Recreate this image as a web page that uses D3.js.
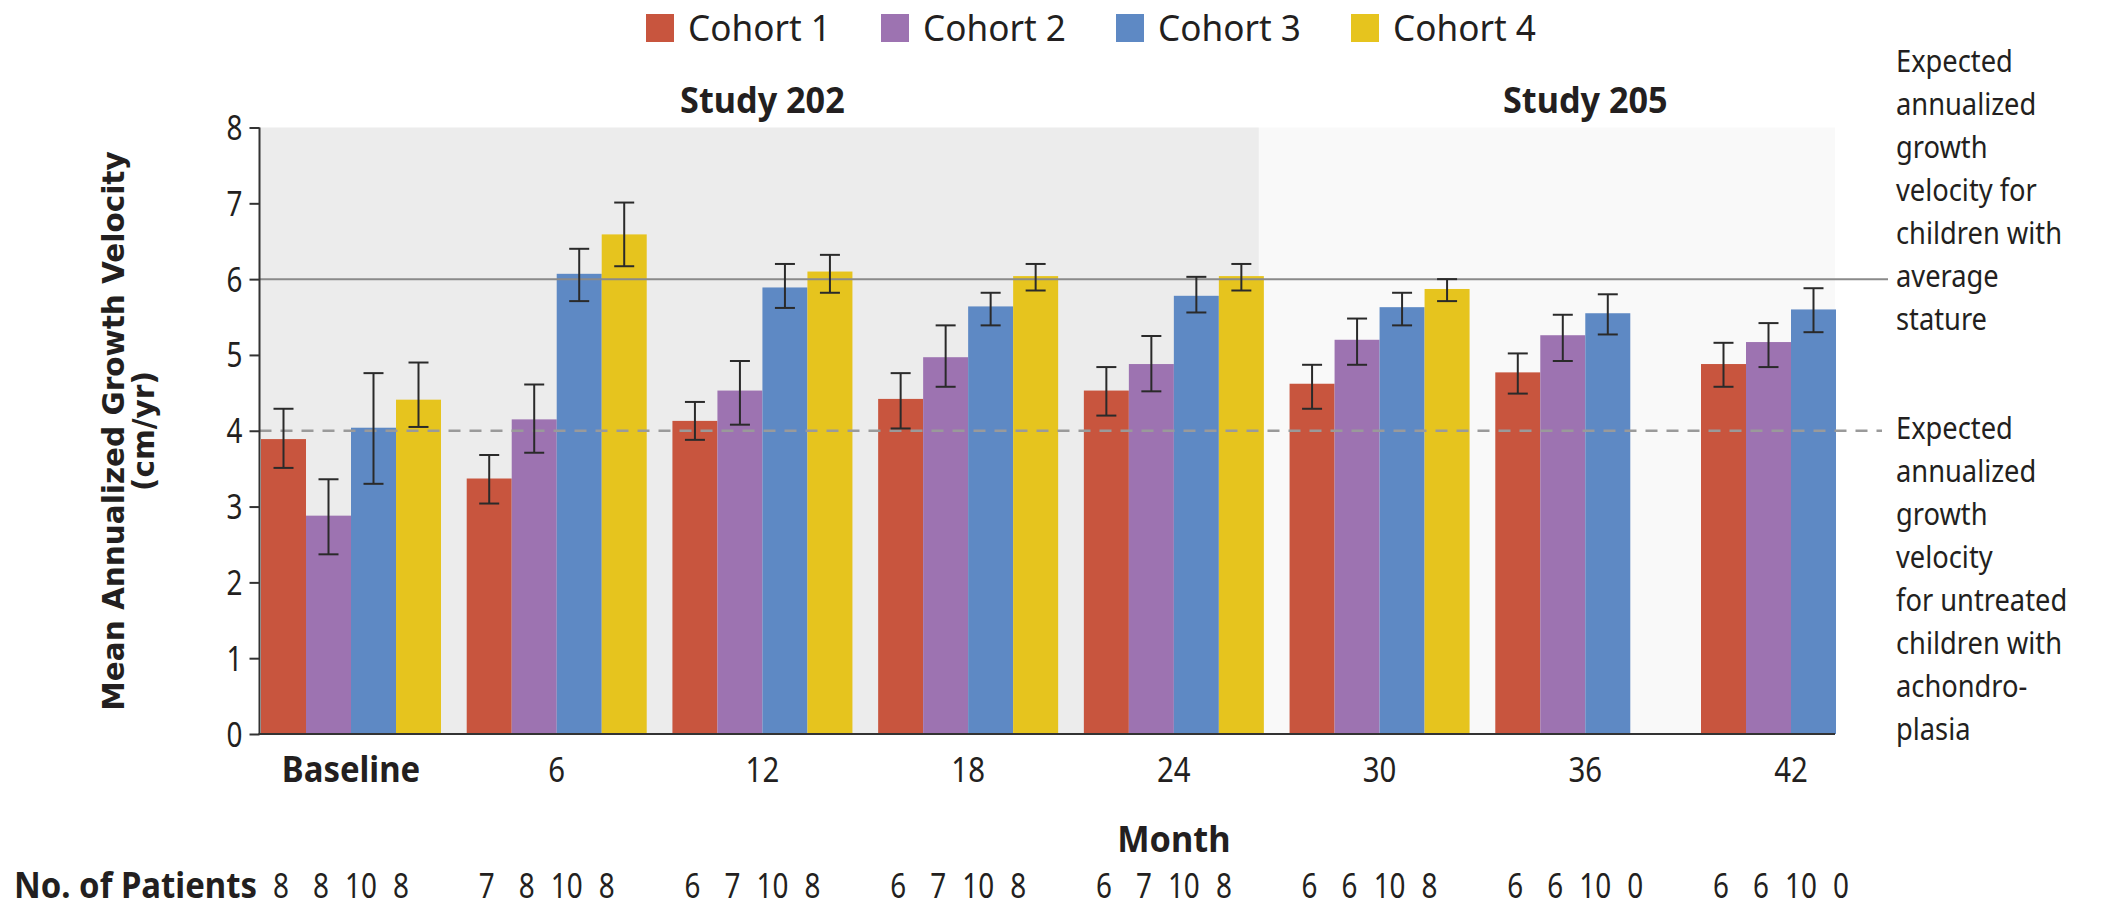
<!DOCTYPE html>
<html>
<head>
<meta charset="utf-8">
<script src="https://cdn.jsdelivr.net/npm/d3@7"></script>
<style>
  html, body { margin: 0; padding: 0; background: #fff; }
  svg { display: block; }
  text { fill: #231f20; font-family: "Noto Sans", "Open Sans", sans-serif; }
</style>
</head>
<body>
<svg id="chart" width="2114" height="909"></svg>
<script>
// ---- data ----
const months = ["Baseline", "6", "12", "18", "24", "30", "36", "42"];
const cohorts = ["Cohort 1", "Cohort 2", "Cohort 3", "Cohort 4"];
const cohortColors = ["#c8553e", "#9d73b1", "#5e89c4", "#e6c41e"];

// mean annualized growth velocity (cm/yr) by month, with error-bar limits
const cohort1Mean = [3.89, 3.37, 4.13, 4.42, 4.53, 4.62, 4.77, 4.88];
const cohort1Low  = [3.51, 3.04, 3.88, 4.03, 4.20, 4.29, 4.49, 4.58];
const cohort1High = [4.29, 3.68, 4.38, 4.76, 4.84, 4.87, 5.02, 5.16];

const cohort2Mean = [2.88, 4.15, 4.53, 4.97, 4.88, 5.20, 5.26, 5.17];
const cohort2Low  = [2.37, 3.71, 4.08, 4.58, 4.52, 4.87, 4.92, 4.84];
const cohort2High = [3.36, 4.61, 4.92, 5.39, 5.25, 5.48, 5.53, 5.42];

const cohort3Mean = [4.04, 6.07, 5.89, 5.64, 5.78, 5.63, 5.55, 5.60];
const cohort3Low  = [3.30, 5.71, 5.62, 5.39, 5.56, 5.39, 5.27, 5.30];
const cohort3High = [4.76, 6.40, 6.20, 5.82, 6.03, 5.82, 5.80, 5.88];

const cohort4Mean = [4.41, 6.59, 6.10, 6.04, 6.04, 5.87, null, null];
const cohort4Low  = [4.05, 6.17, 5.82, 5.85, 5.85, 5.71, null, null];
const cohort4High = [4.90, 7.01, 6.32, 6.20, 6.20, 6.00, null, null];

// number of patients per month, cohorts 1-4
const patients = [
  [8, 8, 10, 8], [7, 8, 10, 8], [6, 7, 10, 8], [6, 7, 10, 8],
  [6, 7, 10, 8], [6, 6, 10, 8], [6, 6, 10, 0], [6, 6, 10, 0]
];

const yTicks = [0, 1, 2, 3, 4, 5, 6, 7, 8];
const averageStatureVelocity = 6;
const untreatedVelocity = 4;

const studyNames = ["Study 202", "Study 205"];
const studyLabelMonth = ["12", "36"];

const averageNote = ["Expected", "annualized", "growth", "velocity for", "children with", "average", "stature"];
const untreatedNote = ["Expected", "annualized", "growth", "velocity", "for untreated", "children with", "achondro-", "plasia"];

const yTitle = ["Mean Annualized Growth Velocity", "(cm/yr)"];

// ---- series table ----
const means = [cohort1Mean, cohort2Mean, cohort3Mean, cohort4Mean];
const lows = [cohort1Low, cohort2Low, cohort3Low, cohort4Low];
const highs = [cohort1High, cohort2High, cohort3High, cohort4High];
const rows = [];
months.forEach((m, i) => cohorts.forEach((c, j) => {
  if (means[j][i] != null) rows.push({ month: m, cohort: c, mean: means[j][i], low: lows[j][i], high: highs[j][i] });
}));

// ---- layout ----
const svg = d3.select("#chart");
const axisX = 259.5, plotRight = 1835;
const ink = "#231f20";

const x0 = d3.scaleBand().domain(months).range([261, 1881]).paddingInner(0.125).paddingOuter(0);
const x1 = d3.scaleBand().domain(cohorts).range([0, x0.bandwidth()]);
const xCount = d3.scalePoint().domain(cohorts).range([20, 140]);
const y = d3.scaleLinear().domain([0, 8]).range([734, 127.5]);
const color = d3.scaleOrdinal().domain(cohorts).range(cohortColors);

function label(g, x, yy, s, size, opts = {}) {
  return g.append("text")
    .attr("transform", `translate(${x},${yy}) scale(${opts.sx ?? 0.9},1)`)
    .attr("text-anchor", opts.anchor || "middle")
    .style("font-size", size + "px")
    .style("font-weight", opts.bold ? 700 : 400)
    .text(s);
}

// study background panels
const splitX = x0("24") + x0.bandwidth() - 5;
const panels = [
  { x: axisX, w: splitX - axisX, fill: "#ececec" },
  { x: splitX, w: plotRight - splitX, fill: "#f9f9f9" }
];
svg.append("g").selectAll("rect").data(panels).join("rect")
  .attr("x", d => d.x).attr("y", y(8)).attr("width", d => d.w).attr("height", y(0) - y(8))
  .attr("fill", d => d.fill);

// bars
svg.append("g").selectAll("rect").data(rows).join("rect")
  .attr("x", d => x0(d.month) + x1(d.cohort))
  .attr("y", d => y(d.mean))
  .attr("width", x1.bandwidth())
  .attr("height", d => y(0) - y(d.mean))
  .attr("fill", d => color(d.cohort));

// reference lines
svg.append("line")
  .attr("x1", axisX).attr("x2", 1888)
  .attr("y1", y(averageStatureVelocity)).attr("y2", y(averageStatureVelocity))
  .attr("stroke", "#8a8a8a").attr("stroke-width", 2);
svg.append("line")
  .attr("x1", axisX).attr("x2", 1882)
  .attr("y1", y(untreatedVelocity)).attr("y2", y(untreatedVelocity))
  .attr("stroke", "#9a9a9a").attr("stroke-width", 2.5)
  .attr("stroke-dasharray", "12,9");

// error bars
const eb = svg.append("g").attr("stroke", "#2a2a2a").attr("stroke-width", 2);
const cx = d => x0(d.month) + x1(d.cohort) + x1.bandwidth() / 2;
eb.selectAll("line.v").data(rows).join("line").attr("class", "v")
  .attr("x1", cx).attr("x2", cx).attr("y1", d => y(d.low)).attr("y2", d => y(d.high));
eb.selectAll("line.hi").data(rows).join("line").attr("class", "hi")
  .attr("x1", d => cx(d) - 10).attr("x2", d => cx(d) + 10).attr("y1", d => y(d.high)).attr("y2", d => y(d.high));
eb.selectAll("line.lo").data(rows).join("line").attr("class", "lo")
  .attr("x1", d => cx(d) - 10).attr("x2", d => cx(d) + 10).attr("y1", d => y(d.low)).attr("y2", d => y(d.low));

// y axis
const yAxis = svg.append("g").attr("transform", `translate(${axisX},0)`)
  .call(d3.axisLeft(y).tickValues(yTicks).tickSize(10).tickPadding(6).tickFormat(d3.format("d")));
yAxis.select(".domain").attr("stroke", "#333").attr("stroke-width", 2).attr("d", `M0,${y(8)}V${y(0)}`);
yAxis.selectAll(".tick line").attr("stroke", "#333").attr("stroke-width", 2);
yAxis.selectAll(".tick text")
  .attr("x", null).attr("dy", null)
  .attr("transform", "translate(-17,12) scale(0.82,1)")
  .style("font-size", "34px").style("font-family", null).attr("fill", ink);

// x axis baseline
svg.append("line").attr("x1", axisX - 1).attr("x2", plotRight)
  .attr("y1", y(0)).attr("y2", y(0)).attr("stroke", "#333").attr("stroke-width", 2);

// x axis labels
const xAxis = svg.append("g").attr("transform", `translate(0,${y(0)})`)
  .call(d3.axisBottom(x0).tickSize(0).tickPadding(0));
xAxis.select(".domain").remove();
xAxis.selectAll(".tick text")
  .attr("y", null).attr("dy", null)
  .attr("transform", d => `translate(0,48) scale(${d === "Baseline" ? 0.94 : 0.84},1)`)
  .style("font-size", "35px").style("font-family", null).attr("fill", ink)
  .style("font-weight", d => d === "Baseline" ? 700 : 400);

// axis titles
const titleG = svg.append("g").attr("transform", `translate(124,431) rotate(-90)`);
yTitle.forEach((t, i) => titleG.append("text")
  .attr("x", 0).attr("y", i * 30)
  .attr("text-anchor", "middle")
  .style("font-family", "'DejaVu Sans', Verdana, sans-serif")
  .style("font-weight", 700).style("font-size", "29.5px").text(t));
label(svg, x0("24") + x0.bandwidth() / 2, 852, "Month", 35, { bold: true, sx: 0.98 });

// study headings
studyNames.forEach((s, i) => label(svg, x0(studyLabelMonth[i]) + x0.bandwidth() / 2, 113, s, 36, { bold: true, sx: 0.95 }));

// legend
const legend = svg.append("g").attr("transform", "translate(646,14)");
cohorts.forEach((c, i) => {
  const g = legend.append("g").attr("transform", `translate(${i * 235},0)`);
  g.append("rect").attr("width", 28).attr("height", 28).attr("fill", color(c));
  label(g, 42, 27, c, 37, { anchor: "start", sx: 0.95 });
});

// patients row
label(svg, 14, 898, "No. of Patients", 35, { bold: true, anchor: "start", sx: 0.94 });
months.forEach((m, i) => cohorts.forEach((c, j) => {
  label(svg, x0(m) + xCount(c), 898, String(patients[i][j]), 34, { sx: 0.82 });
}));

// reference line notes
averageNote.forEach((t, i) => label(svg, 1896, y(averageStatureVelocity) + 8 + (i - 5) * 43, t, 31, { anchor: "start", sx: 0.88 }));
untreatedNote.forEach((t, i) => label(svg, 1896, y(untreatedVelocity) + 8 + i * 43, t, 31, { anchor: "start", sx: 0.88 }));
</script>
</body>
</html>
